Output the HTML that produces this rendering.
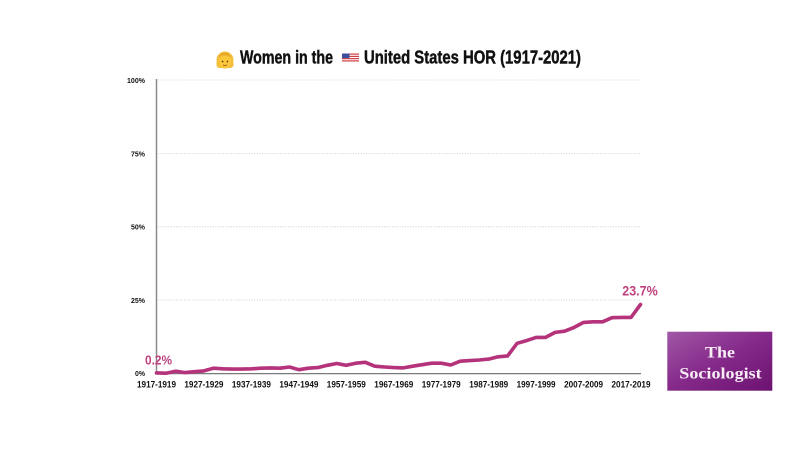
<!DOCTYPE html>
<html>
<head>
<meta charset="utf-8">
<style>
  html,body{margin:0;padding:0;background:#fff;}
  svg{display:block;}
  text{font-family:"Liberation Sans", sans-serif;font-weight:bold;}
</style>
</head>
<body>
<svg width="800" height="450" viewBox="0 0 800 450" xmlns="http://www.w3.org/2000/svg">
  <defs>
    <linearGradient id="lg" x1="0" y1="0" x2="1" y2="1">
      <stop offset="0" stop-color="#a057a6"/>
      <stop offset="0.5" stop-color="#85298a"/>
      <stop offset="1" stop-color="#6c1270"/>
    </linearGradient>
  </defs>
  <rect width="800" height="450" fill="#fff"/>

  <!-- Title -->
  <g>
    <ellipse cx="225" cy="60" rx="8.5" ry="8.5" fill="#f2bf3a"/>
    <rect x="216.5" y="60" width="17" height="8" rx="3" fill="#f2bf3a"/>
    <ellipse cx="225" cy="62" rx="6" ry="6" fill="#fcc83a"/>
    <path d="M218.5 58 Q222 53 231.5 57 Q229 53 225 52.5 Q219 53 218.5 58Z" fill="#e6a92a"/>
    <circle cx="222.6" cy="61.5" r="0.9" fill="#5a3a10"/>
    <circle cx="227.4" cy="61.5" r="0.9" fill="#5a3a10"/>
    <path d="M223 64.8 Q225 66.2 227 64.8" stroke="#8a4a1a" stroke-width="0.8" fill="none"/>
    <text x="240" y="63.3" font-size="18" textLength="93" lengthAdjust="spacingAndGlyphs" fill="#111" stroke="#111" stroke-width="0.45">Women in the</text>
    <g>
      <rect x="342" y="53.5" width="17" height="8" fill="#fff"/>
      <rect x="342" y="53.5" width="17" height="1.15" fill="#d0343a"/>
      <rect x="342" y="55.8" width="17" height="1.15" fill="#d0343a"/>
      <rect x="342" y="58.1" width="17" height="1.15" fill="#d0343a"/>
      <rect x="342" y="60.35" width="17" height="1.15" fill="#d0343a"/>
      <rect x="342" y="53.5" width="7.5" height="4.6" fill="#3c4f9c"/>
    </g>
    <text x="364" y="63.3" font-size="18" textLength="217" lengthAdjust="spacingAndGlyphs" fill="#111" stroke="#111" stroke-width="0.45">United States HOR (1917-2021)</text>
  </g>

  <!-- gridlines -->
  <g stroke="#c8c8c8" stroke-width="0.8" stroke-dasharray="1,1.6">
    <line x1="158" y1="80" x2="641" y2="80"/>
    <line x1="158" y1="153.5" x2="641" y2="153.5"/>
    <line x1="158" y1="226.8" x2="641" y2="226.8"/>
    <line x1="158" y1="300" x2="641" y2="300"/>
  </g>

  <!-- axes -->
  <line x1="156.5" y1="79" x2="156.5" y2="374" stroke="#8a8a8a" stroke-width="1.5"/>
  <line x1="156" y1="373.6" x2="641" y2="373.6" stroke="#7a7a7a" stroke-width="1.2"/>

  <!-- y labels -->
  <g font-size="7.5" fill="#111" text-anchor="end">
    <text x="145" y="83" textLength="18" lengthAdjust="spacingAndGlyphs">100%</text>
    <text x="145" y="156.5" textLength="14" lengthAdjust="spacingAndGlyphs">75%</text>
    <text x="145" y="229.6" textLength="14" lengthAdjust="spacingAndGlyphs">50%</text>
    <text x="145" y="302.8" textLength="14" lengthAdjust="spacingAndGlyphs">25%</text>
    <text x="145" y="376.2" textLength="10" lengthAdjust="spacingAndGlyphs">0%</text>
  </g>

  <!-- x labels -->
  <g font-size="9" fill="#111" text-anchor="middle">
    <text x="156.5" y="387.3" textLength="39" lengthAdjust="spacingAndGlyphs">1917-1919</text>
    <text x="203.9" y="387.3" textLength="39" lengthAdjust="spacingAndGlyphs">1927-1929</text>
    <text x="251.4" y="387.3" textLength="39" lengthAdjust="spacingAndGlyphs">1937-1939</text>
    <text x="298.9" y="387.3" textLength="39" lengthAdjust="spacingAndGlyphs">1947-1949</text>
    <text x="346.3" y="387.3" textLength="39" lengthAdjust="spacingAndGlyphs">1957-1959</text>
    <text x="393.8" y="387.3" textLength="39" lengthAdjust="spacingAndGlyphs">1967-1969</text>
    <text x="441.2" y="387.3" textLength="39" lengthAdjust="spacingAndGlyphs">1977-1979</text>
    <text x="488.7" y="387.3" textLength="39" lengthAdjust="spacingAndGlyphs">1987-1989</text>
    <text x="536.1" y="387.3" textLength="39" lengthAdjust="spacingAndGlyphs">1997-1999</text>
    <text x="583.6" y="387.3" textLength="39" lengthAdjust="spacingAndGlyphs">2007-2009</text>
    <text x="631.0" y="387.3" textLength="39" lengthAdjust="spacingAndGlyphs">2017-2019</text>
  </g>

  <!-- series -->
  <polyline fill="none" stroke="#b5337a" stroke-width="3.6" stroke-linejoin="round" stroke-linecap="round"
    points="156.5,372.9 166.0,373.2 175.5,371.2 185.0,372.6 194.5,371.7 203.9,370.9 213.4,368.2 222.9,368.8 232.4,369.1 241.9,369.1 251.4,368.8 260.9,368.2 270.4,367.9 279.9,368.2 289.4,367.0 298.9,369.7 308.3,368.2 317.8,367.6 327.3,365.3 336.8,363.5 346.3,365.3 355.8,363.2 365.3,362.3 374.8,366.2 384.3,367.0 393.8,367.6 403.2,367.9 412.7,366.2 422.2,364.7 431.7,363.2 441.2,363.2 450.7,365.0 460.2,361.2 469.7,360.6 479.2,360.0 488.7,359.1 498.1,356.8 507.6,355.9 517.1,343.3 526.6,340.6 536.1,337.4 545.6,337.4 555.1,332.4 564.6,331.2 574.1,327.4 583.6,322.4 593.1,321.8 602.6,321.8 612.0,317.7 621.5,317.4 631.0,317.4 640.5,304.5"/>

  <!-- annotations -->
  <text x="145" y="364.3" font-size="13" fill="#c0407e" textLength="27" lengthAdjust="spacingAndGlyphs">0.2%</text>
  <text x="622.3" y="295.7" font-size="13.5" fill="#c0407e" textLength="35.4" lengthAdjust="spacingAndGlyphs">23.7%</text>

  <!-- logo -->
  <rect x="667.3" y="331.7" width="105" height="59" fill="url(#lg)"/>
  <text x="720" y="357.7" style="font-family:'Liberation Serif',serif" font-size="16" fill="#f7eef5" text-anchor="middle" textLength="30" lengthAdjust="spacingAndGlyphs">The</text>
  <text x="720.5" y="378.3" style="font-family:'Liberation Serif',serif" font-size="16" fill="#f7eef5" text-anchor="middle" textLength="82.4" lengthAdjust="spacingAndGlyphs">Sociologist</text>
</svg>
</body>
</html>
